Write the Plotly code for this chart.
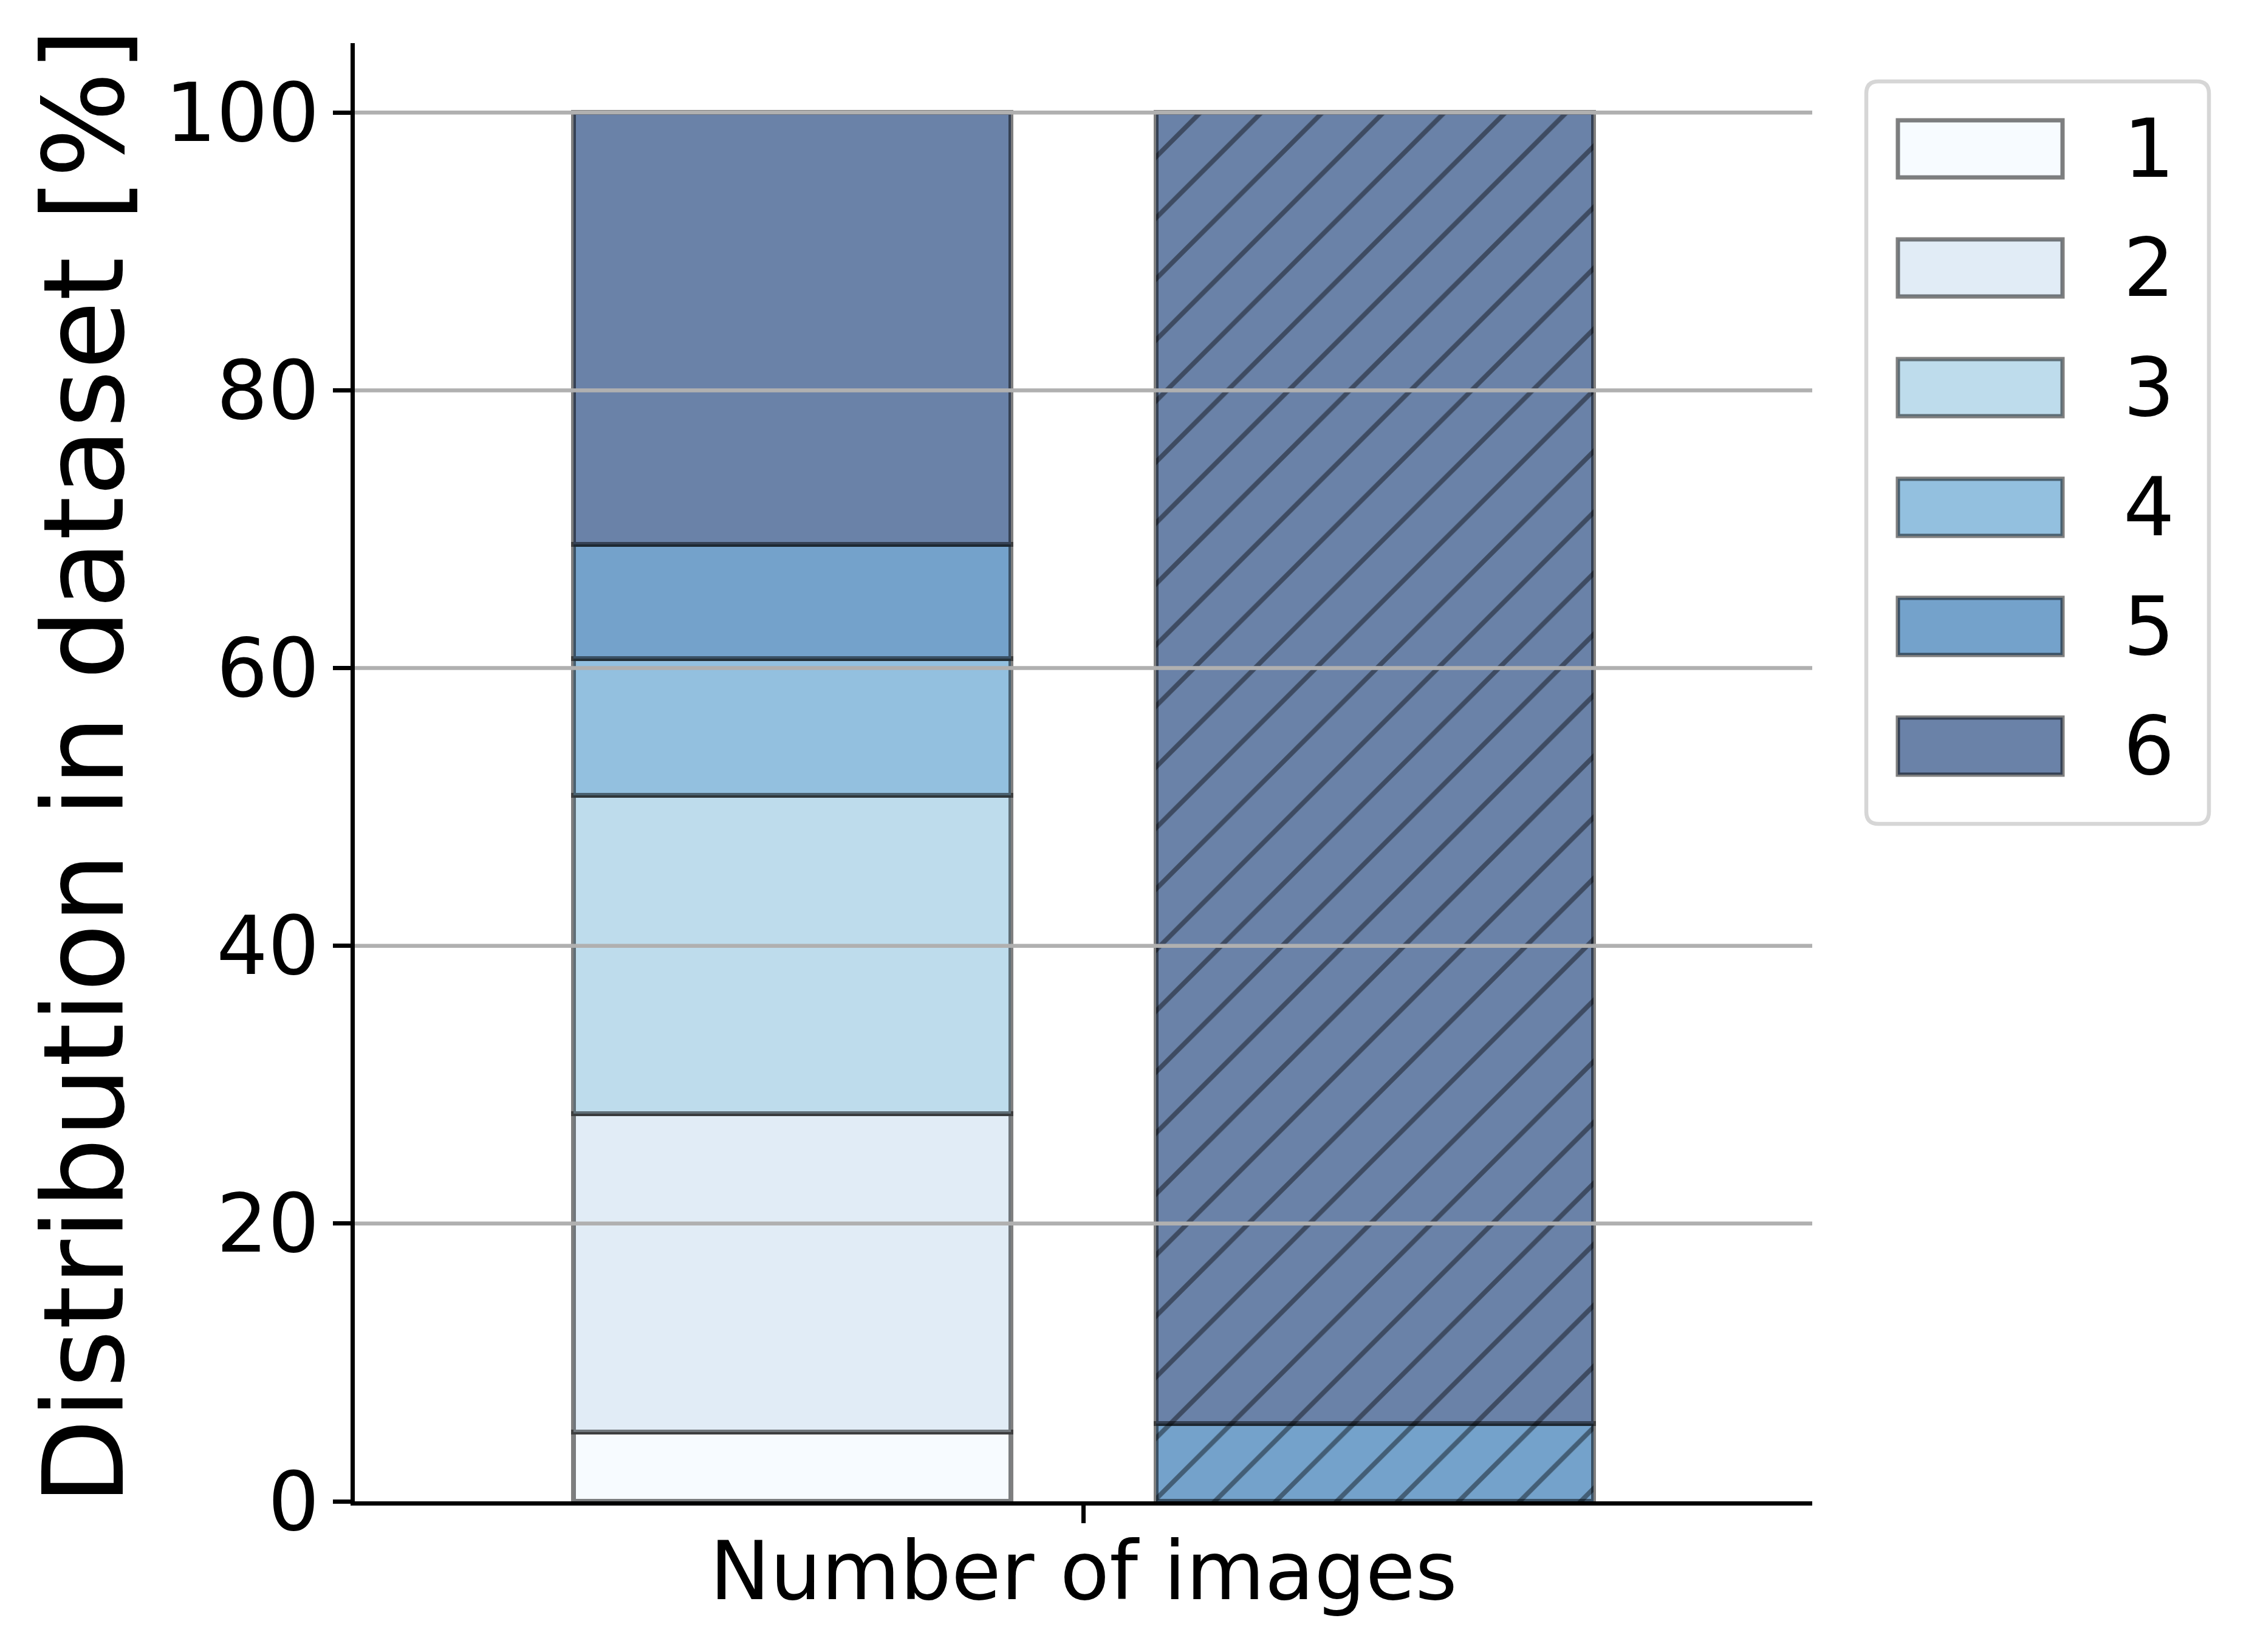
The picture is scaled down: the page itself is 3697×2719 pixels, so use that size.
import plotly.graph_objects as go

# ---- data ----
categories = ["1", "2", "3", "4", "5", "6"]
bar_positions = [-0.2, 0.2]
left_bar = [5.0, 22.9, 22.95, 9.85, 8.2, 31.1]
right_bar = [None, None, None, None, 5.6, 94.4]
bar_patterns = ["", "/"]
colors = ["#f7fbff", "#e1ecf6", "#bedcec", "#93c0df", "#74a2cb", "#6a82a8"]
y_ticks = [0, 20, 40, 60, 80, 100]
x_tick_vals = [0]
x_tick_labels = ["Number of images"]
y_title = "Distribution in dataset [%]"

# ---- geometry ----
W, H = 3697, 2719
ML, MR, MT, MB = 584, 714, 71, 248
PW = W - ML - MR
PH = H - MT - MB
FONT = "DejaVu Sans"
EDGE = "rgba(0,0,0,0.5)"
LW = 8


def px_x(p):
    return (p - ML) / PW


def px_y(p):
    return (H - MB - p) / PH


fig = go.Figure()
for i, cat in enumerate(categories):
    fig.add_trace(go.Bar(
        x=bar_positions,
        y=[left_bar[i], right_bar[i]],
        width=0.3,
        name=cat,
        showlegend=False,
        marker=dict(
            color=colors[i],
            line=dict(color=EDGE, width=LW),
            pattern=dict(shape=bar_patterns, size=71, solidity=0.11,
                         bgcolor=colors[i],
                         fgcolor="rgba(0,0,0,0.42)", fillmode="replace"),
        ),
    ))

shapes = []
# grid lines drawn above bars (as in reference)
for v in y_ticks[1:]:
    shapes.append(dict(type="line", xref="paper", yref="y", x0=0, x1=1, y0=v, y1=v,
                       line=dict(color="#b0b0b0", width=6.5), layer="above"))

# legend box (rounded)
bx0, bx1 = px_x(3072), px_x(3636)
by0, by1 = px_y(1356), px_y(134)
rx, ry = 20 / PW, 20 / PH
path = (f"M{bx0+rx:.5f},{by0:.5f} L{bx1-rx:.5f},{by0:.5f} Q{bx1:.5f},{by0:.5f} {bx1:.5f},{by0+ry:.5f} "
        f"L{bx1:.5f},{by1-ry:.5f} Q{bx1:.5f},{by1:.5f} {bx1-rx:.5f},{by1:.5f} L{bx0+rx:.5f},{by1:.5f} "
        f"Q{bx0:.5f},{by1:.5f} {bx0:.5f},{by1-ry:.5f} L{bx0:.5f},{by0+ry:.5f} Q{bx0:.5f},{by0:.5f} {bx0+rx:.5f},{by0:.5f} Z")
shapes.append(dict(type="path", xref="paper", yref="paper", path=path,
                   fillcolor="rgba(255,255,255,0.8)", line=dict(color="#d6d6d6", width=6.5),
                   layer="above"))

annotations = []
centers = [245, 441, 638, 835, 1031, 1228]
for i, cat in enumerate(categories):
    cy = centers[i]
    shapes.append(dict(type="rect", xref="paper", yref="paper",
                       x0=px_x(3124), x1=px_x(3395), y0=px_y(cy + 47), y1=px_y(cy - 47),
                       fillcolor=colors[i], line=dict(color=EDGE, width=7), layer="above"))
    annotations.append(dict(xref="paper", yref="paper", x=px_x(3537), y=px_y(cy),
                            text=cat, showarrow=False, xanchor="center", yanchor="middle",
                            font=dict(family=FONT, size=133, color="black")))

# y-axis title (placed as text beside the axis, centred like the reference)
annotations.append(dict(xref="paper", yref="paper", x=px_x(138), y=px_y(1262),
                        text=y_title, textangle=-90, showarrow=False,
                        xanchor="center", yanchor="middle",
                        font=dict(family=FONT, size=184, color="black")))

fig.update_layout(
    width=W, height=H,
    margin=dict(l=ML, r=MR, t=MT, b=MB, pad=0, autoexpand=False),
    paper_bgcolor="white", plot_bgcolor="white",
    barmode="stack",
    font=dict(family=FONT, size=133, color="black"),
    shapes=shapes,
    annotations=annotations,
    xaxis=dict(range=[-0.5, 0.5], tickvals=x_tick_vals, ticktext=x_tick_labels,
               automargin=False,
               showline=True, linecolor="black", linewidth=6.7, ticks="outside",
               ticklen=29, tickwidth=6.7, tickcolor="black", showgrid=False, zeroline=False,
               tickfont=dict(family=FONT, size=133, color="black"), ticklabelstandoff=-34),
    yaxis=dict(range=[0, 105], tickvals=y_ticks, showline=True, linecolor="black",
               automargin=False,
               linewidth=6.7, ticks="outside", ticklen=29, tickwidth=6.7, tickcolor="black",
               showgrid=False, zeroline=False,
               tickfont=dict(family=FONT, size=133, color="black"), ticklabelstandoff=-4),
)

fig.write_html("out.html", config={"displayModeBar": False})

# remove the default browser body margin so the figure sits at the page origin
with open("out.html", "r", encoding="utf-8") as f:
    html = f.read()
html = html.replace("<body>", '<body style="margin:0;padding:0;overflow:hidden">', 1)
with open("out.html", "w", encoding="utf-8") as f:
    f.write(html)
